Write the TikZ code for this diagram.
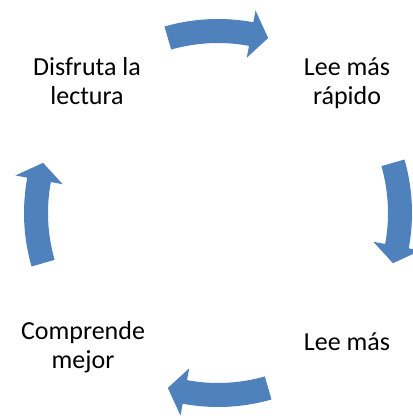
\documentclass[tikz,border=0pt]{standalone}
\usepackage{fontspec}
\setmainfont{Carlito}
\usepackage{xcolor}
\usepackage{tikz}

\definecolor{cycblue}{HTML}{4F81BD}

\begin{document}
\begin{tikzpicture}[x=1pt, y=1pt,
    every node/.style={font=\fontsize{26}{29}\selectfont, align=center, anchor=base, inner sep=0pt},
    cycarrow/.style={fill=cycblue}]
    \useasboundingbox (0,0) rectangle (413,416);

    % the four labels
    \node (disfruta) at (87,311) {Disfruta la\\lectura};
    \node (rapido) at (347,311) {Lee más\\rápido};
    \node (leemas) at (347,66) {Lee más};
    \node (comprende) at (83,48) {Comprende\\mejor};

    % curved arrows, clockwise
    \begin{scope}[shift={(218,203)}]
        \foreach \m in {90,0,-90,180} {
            \fill[cycarrow] (\m+16:194pt) arc[start angle=\m+16, end angle=\m-10.5, radius=194pt]
                -- (\m-10.5:206pt) -- (\m-16:182pt) -- (\m-10.5:158pt)
                -- (\m-10.5:170pt) arc[start angle=\m-10.5, end angle=\m+16, radius=170pt]
                -- cycle;
        }
    \end{scope}
\end{tikzpicture}
\end{document}
